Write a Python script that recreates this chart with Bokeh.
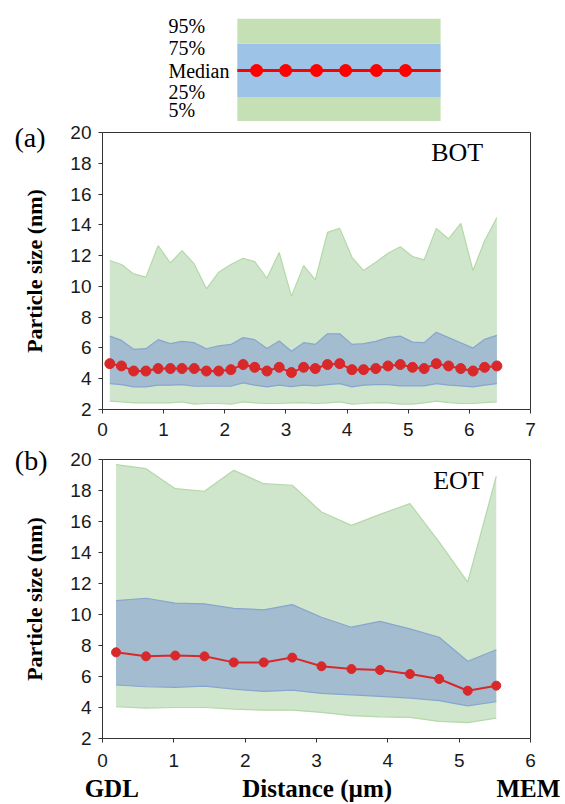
from bokeh.plotting import figure
from bokeh.models import Range1d, FixedTicker, Label, LabelSet, ColumnDataSource, LinearAxis
from bokeh.layouts import column
from bokeh.embed import file_html
from bokeh.resources import INLINE

# ---------------- data ----------------
a_x = [0.12, 0.31, 0.51, 0.71, 0.91, 1.11, 1.30, 1.50, 1.70, 1.90, 2.10, 2.30, 2.49, 2.69, 2.89, 3.09,
       3.29, 3.48, 3.68, 3.88, 4.08, 4.27, 4.47, 4.67, 4.87, 5.07, 5.26, 5.46, 5.66, 5.86, 6.06, 6.25, 6.45]
a_p95 = [11.68, 11.42, 10.81, 10.6, 12.65, 11.52, 12.32, 11.46, 9.84, 10.92, 11.42, 11.83, 11.61, 10.53, 12.2, 9.35,
         11.35, 10.42, 13.51, 13.77, 11.89, 11.03, 11.57, 12.15, 12.58, 11.94, 11.72, 13.77, 13.08, 14.1, 11.03, 12.97, 14.48]
a_p75 = [6.77, 6.49, 5.91, 5.95, 6.54, 6.28, 6.43, 6.34, 5.95, 6.13, 6.23, 6.67, 6.54, 5.97, 6.45, 5.78,
         6.34, 6.23, 6.92, 6.92, 6.23, 6.28, 6.43, 6.67, 6.77, 6.38, 6.34, 7.02, 6.67, 6.34, 5.99, 6.56, 6.82]
a_med = [4.98, 4.83, 4.5, 4.5, 4.66, 4.66, 4.66, 4.66, 4.5, 4.5, 4.59, 4.92, 4.74, 4.5, 4.74, 4.40,
         4.74, 4.66, 4.92, 4.98, 4.59, 4.59, 4.66, 4.83, 4.92, 4.74, 4.66, 4.98, 4.83, 4.66, 4.5, 4.74, 4.83]
a_p25 = [3.68, 3.62, 3.47, 3.47, 3.58, 3.58, 3.62, 3.51, 3.51, 3.51, 3.51, 3.73, 3.58, 3.47, 3.58, 3.49,
         3.58, 3.53, 3.62, 3.68, 3.47, 3.58, 3.62, 3.62, 3.53, 3.53, 3.53, 3.68, 3.58, 3.53, 3.47, 3.58, 3.68]
a_p5 = [2.54, 2.5, 2.43, 2.43, 2.43, 2.43, 2.5, 2.35, 2.39, 2.39, 2.35, 2.5, 2.43, 2.39, 2.39, 2.43,
        2.45, 2.39, 2.43, 2.5, 2.35, 2.39, 2.45, 2.43, 2.35, 2.35, 2.43, 2.54, 2.45, 2.39, 2.39, 2.45, 2.5]

b_x = [0.19, 0.61, 1.02, 1.43, 1.84, 2.26, 2.66, 3.07, 3.49, 3.89, 4.31, 4.72, 5.12, 5.52]
b_p95 = [19.67, 19.41, 18.12, 17.95, 19.3, 18.44, 18.34, 16.61, 15.75, 16.46, 17.15, 14.67, 12.09, 18.92]
b_p75 = [10.9, 11.05, 10.73, 10.69, 10.4, 10.3, 10.64, 9.82, 9.18, 9.56, 9.07, 8.53, 6.98, 7.73]
b_med = [7.56, 7.30, 7.35, 7.30, 6.91, 6.91, 7.22, 6.66, 6.48, 6.42, 6.16, 5.84, 5.08, 5.41]
b_p25 = [5.45, 5.34, 5.30, 5.38, 5.19, 5.04, 5.12, 4.91, 4.82, 4.72, 4.61, 4.44, 4.11, 4.37]
b_p5 = [4.05, 3.96, 4.0, 4.0, 3.90, 3.83, 3.83, 3.68, 3.47, 3.40, 3.36, 3.10, 3.03, 3.31]

y_ticks = [2, 4, 6, 8, 10, 12, 14, 16, 18, 20]
a_xticks = [0, 1, 2, 3, 4, 5, 6, 7]
b_xticks = [0, 1, 2, 3, 4, 5, 6]
bottom_labels = {0.13: "GDL", 3.01: "Distance (\u00b5m)", 5.97: "MEM"}

legend_labels = ["95%", "75%", "Median", "25%", "5%"]
legend_label_y = [0.932, 0.718, 0.495, 0.282, 0.107]
legend_band_bottom = [0.0, 0.233, 0.757]
legend_band_top = [0.233, 0.757, 1.0]
legend_band_color = ["#c5e0b4", "#9dc3e6", "#c5e0b4"]
legend_dot_x = [0.360, 0.428, 0.500, 0.568, 0.640, 0.708]
legend_median_y = 0.495

# ---------------- style ----------------
GREEN = "#cfe6cc"
GREEN_EDGE = "#b4d8a8"
BLUE = "#a3bccf"
BLUE_EDGE = "#87a6cf"
RED = "#d9282a"
SANS = "Liberation Sans"
SERIF = "Liberation Serif"
W = 565
BL, BR = 102, 35   # left / right borders shared by all rows

# ---------------- legend figure ----------------
pl = figure(width=W, height=121, x_range=Range1d(0, 1), y_range=Range1d(0, 1),
            min_border_left=BL, min_border_right=BR, min_border_top=18, min_border_bottom=0,
            x_axis_location=None, y_axis_location=None, output_backend="svg", toolbar_location=None)
pl.outline_line_color = None
pl.grid.visible = False
box_l, box_r = 0.315, 0.790
pl.quad(left=[box_l] * 3, right=[box_r] * 3, bottom=legend_band_bottom, top=legend_band_top,
        fill_color=legend_band_color, line_color=None)
pl.line([box_l, box_r], [legend_median_y] * 2, line_color="#ff0000", line_width=3)
pl.scatter(legend_dot_x, [legend_median_y] * len(legend_dot_x), size=12,
           fill_color="#ff0000", line_color="#ff0000")
lsrc = ColumnDataSource(dict(x=[0.154] * 5, y=legend_label_y, t=legend_labels))
pl.add_layout(LabelSet(x="x", y="y", text="t", source=lsrc, text_font=SERIF, text_font_size="20px",
                       text_color="black", text_align="left", text_baseline="middle"))


def style_panel(p, xticks, tag, tag_y, tag_standoff):
    p.grid.visible = False
    p.outline_line_color = "#333333"
    p.outline_line_width = 1
    for ax in (p.xaxis[0], p.yaxis[0]):
        ax.axis_line_color = "#333333"
        ax.major_tick_line_color = "#333333"
        ax.major_tick_out = 4
        ax.major_tick_in = 0
        ax.minor_tick_line_color = None
        ax.major_label_text_font = SANS
        ax.major_label_text_font_size = "19px"
        ax.major_label_text_color = "#1a1a1a"
    p.xaxis[0].ticker = FixedTicker(ticks=xticks)
    p.yaxis[0].ticker = FixedTicker(ticks=y_ticks)
    p.yaxis[0].major_label_standoff = 7
    p.yaxis[0].axis_label = "Particle size (nm)"
    p.yaxis[0].axis_label_text_font = SERIF
    p.yaxis[0].axis_label_text_font_style = "bold"
    p.yaxis[0].axis_label_text_font_size = "22px"
    p.yaxis[0].axis_label_text_color = "black"
    p.yaxis[0].axis_label_standoff = 20
    # panel tag "(a)" / "(b)" as the only label of an outer left axis
    tag_axis = LinearAxis(ticker=FixedTicker(ticks=[tag_y]), major_label_overrides={tag_y: tag},
                          axis_line_color=None, major_tick_line_color=None, minor_tick_line_color=None,
                          major_tick_out=0, major_tick_in=0, major_label_standoff=tag_standoff,
                          major_label_text_font=SERIF, major_label_text_font_size="28px",
                          major_label_text_color="black")
    p.add_layout(tag_axis, "left")


def draw_bands(p, x, p5, p25, med, p75, p95, dot):
    p.varea(x=x, y1=p5, y2=p95, fill_color=GREEN)
    p.line(x, p95, line_color=GREEN_EDGE, line_width=1.2)
    p.line(x, p5, line_color=GREEN_EDGE, line_width=1.2)
    p.varea(x=x, y1=p25, y2=p75, fill_color=BLUE)
    p.line(x, p75, line_color=BLUE_EDGE, line_width=1.2)
    p.line(x, p25, line_color=BLUE_EDGE, line_width=1.2)
    p.line(x, med, line_color=RED, line_width=2)
    p.scatter(x, med, size=dot, fill_color=RED, line_color=RED)


# ---------------- panel (a) ----------------
pa = figure(width=W, height=323, x_range=Range1d(0, 7), y_range=Range1d(2, 20),
            min_border_left=BL, min_border_right=BR, min_border_top=11, min_border_bottom=35,
            output_backend="svg", toolbar_location=None)
style_panel(pa, a_xticks, "(a)", 19.68, -26)
pa.xaxis[0].major_label_standoff = 9
draw_bands(pa, a_x, a_p5, a_p25, a_med, a_p75, a_p95, 10)
pa.add_layout(Label(x=5.8, y=18.7, text="BOT", text_font=SERIF, text_font_size="26px",
                    text_align="center", text_baseline="middle", text_color="black"))

# ---------------- panel (b) ----------------
pb = figure(width=W, height=360, x_range=Range1d(0, 6), y_range=Range1d(2, 20),
            min_border_left=BL, min_border_right=BR, min_border_top=15, min_border_bottom=66,
            output_backend="svg", toolbar_location=None)
style_panel(pb, b_xticks, "(b)", 19.95, -28)
pb.xaxis[0].major_label_standoff = 11
draw_bands(pb, b_x, b_p5, b_p25, b_med, b_p75, b_p95, 9)
pb.add_layout(Label(x=4.99, y=18.65, text="EOT", text_font=SERIF, text_font_size="26px",
                    text_align="center", text_baseline="middle", text_color="black"))
# GDL / Distance / MEM as labels of a second bottom axis
name_axis = LinearAxis(ticker=FixedTicker(ticks=list(bottom_labels.keys())),
                       major_label_overrides=bottom_labels,
                       axis_line_color=None, major_tick_line_color=None, minor_tick_line_color=None,
                       major_tick_out=0, major_tick_in=0, major_label_standoff=5,
                       major_label_text_font=SERIF, major_label_text_font_size="25px",
                       major_label_text_font_style="bold", major_label_text_color="black")
pb.add_layout(name_axis, "below")

layout = column(pl, pa, pb, spacing=0)
open("out.html", "w").write(file_html(layout, INLINE))
